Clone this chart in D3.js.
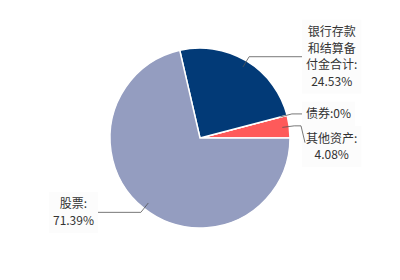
<!DOCTYPE html>
<meta charset="utf-8">
<style>
body { margin: 0; background: #fff; }
svg { font: 12px "Noto Sans CJK SC", "Noto Sans", sans-serif; }
</style>
<body>
<svg width="400" height="280"></svg>
<script src="https://d3js.org/d3.v7.min.js"></script>
<script>

// data, in drawing order (counterclockwise from 3 o'clock)
var names = ["其他资产", "债券", "银行存款和结算备付金合计", "股票"];
var values = [4.08, 0, 24.53, 71.39];
var labelLines = [["其他资产:", "4.08%"], ["债券:0%"], ["银行存款", "和结算备", "付金合计:", "24.53%"], ["股票:", "71.39%"]];
var colors = ["#fe5a5a", "#7cb5ec", "#023a77", "#949dc0"];

var svg = d3.select("svg"),
    cx = 200, cy = 138, r = 90;

var pie = d3.pie()
    .sort(null)
    .startAngle(Math.PI / 2)
    .endAngle(Math.PI / 2 - 2 * Math.PI);

var arcs = pie(values);
var arc = d3.arc().innerRadius(0).outerRadius(r);

var g = svg.append("g").attr("transform", "translate(" + cx + "," + cy + ")");

g.selectAll("path")
    .data(arcs)
  .enter().append("path")
    .attr("d", arc)
    .attr("fill", function(d, i) { return colors[i]; })
    .attr("stroke", "#fff")
    .attr("stroke-width", 1.5);

function pt(d, rad) {
  var a = (d.startAngle + d.endAngle) / 2;
  return [rad * Math.sin(a), -rad * Math.cos(a)];
}

var lineH = 16.5, pad = 4;

// build label items
var items = arcs.map(function(d, i) {
  var p0 = pt(d, 83), p1 = pt(d, 95);
  return { i: i, d: d, p0: p0, p1: p1, right: p1[0] > 0, lines: labelLines[i],
           h: labelLines[i].length * lineH + pad * 2, cy: p1[1] };
});

// push right-side labels down if they overlap
var rightItems = items.filter(function(o) { return o.right; })
    .sort(function(a, b) { return a.cy - b.cy; });
var lastBottom = -Infinity;
rightItems.forEach(function(o) {
  var top = o.cy - o.h / 2;
  if (top < lastBottom) o.cy = lastBottom + o.h / 2;
  lastBottom = o.cy + o.h / 2;
});

items.forEach(function(o) {
  var edge = o.right ? 102 : -102;
  var lg = g.append("g");

  var t = lg.append("text").attr("fill", "#333");
  o.lines.forEach(function(s, k) {
    t.append("tspan")
      .attr("text-anchor", "middle")
      .attr("y", o.cy - (o.lines.length - 1) * lineH / 2 + k * lineH)
      .attr("dy", "0.35em")
      .text(s);
  });
  var w = d3.max(t.selectAll("tspan").nodes(), function(n) { return n.getComputedTextLength(); }) + pad * 2;
  var x0 = o.right ? edge : edge - w;
  t.selectAll("tspan").attr("x", x0 + w / 2);

  lg.insert("rect", "text")
      .attr("x", x0).attr("y", o.cy - o.h / 2)
      .attr("width", w).attr("height", o.h)
      .attr("fill", "#fcfcfc");

  var pts = [o.p0, o.p1];
  if (Math.abs(o.cy - o.p1[1]) > 2) {
    pts.push([edge + (o.right ? -1 : 1), o.p1[1]]);
    pts.push([edge + (o.right ? 3 : -3), o.cy - 4]);
  } else {
    pts.push([edge, o.p1[1]]);
  }
  g.append("path")
      .attr("d", d3.line()(pts))
      .attr("fill", "none")
      .attr("stroke", "#555")
      .attr("stroke-width", 0.8);
});

</script>
</body>
